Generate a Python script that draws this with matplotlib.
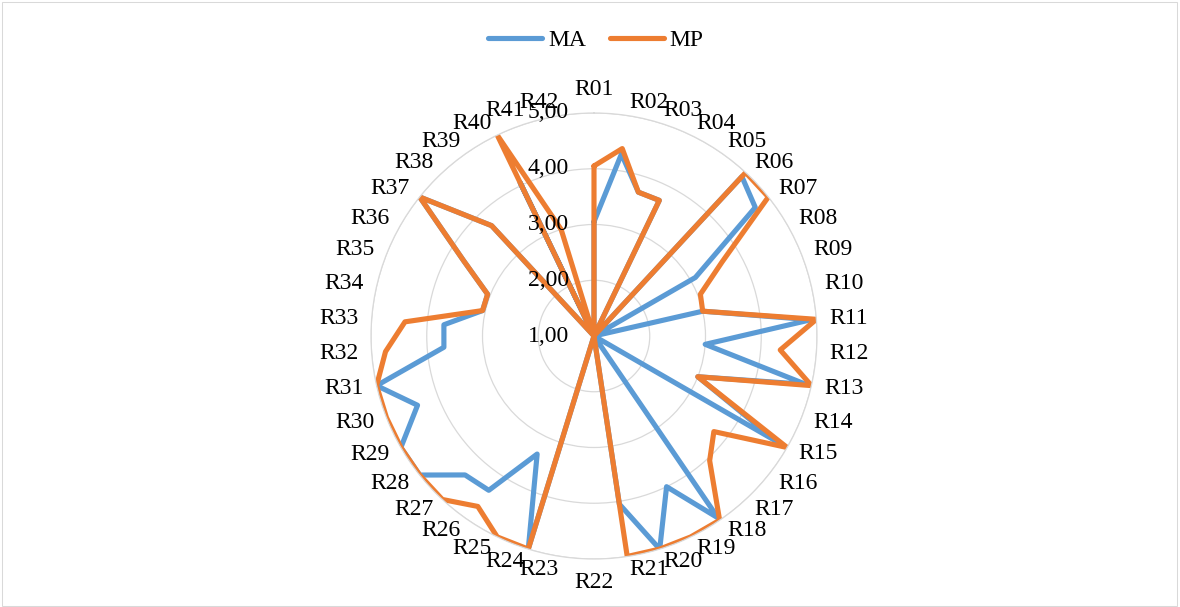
import numpy as np
import matplotlib.pyplot as plt
from matplotlib.transforms import offset_copy
from matplotlib.patches import Rectangle

plt.rcParams['font.family'] = ['Liberation Serif', 'DejaVu Serif']

# categories and series values
cats = ['R%02d' % i for i in range(1, 43)]
ma = [3.05, 4.3, 3.7, 3.7, 1, 4.9, 4.7, 3.1, 1, 3.0,
      4.9, 3.0, 4.9, 3.0, 4.8, 1, 1, 4.95, 4.0, 5.0,
      4.05, 1, 1, 5.0, 3.35, 4.35, 4.4, 5.0, 5.0, 4.4,
      5.0, 3.7, 3.7, 3.05, 3.05, 3.7, 5.0, 3.7, 1, 4.05,
      1, 1]
mp = [4.05, 4.4, 3.7, 3.7, 1, 5.0, 5.0, 3.65, 3.05, 3.0,
      5.0, 4.35, 5.0, 3.0, 5.0, 3.75, 4.05, 5.0, 5.0, 5.0,
      5.0, 1, 1, 5.0, 5.0, 4.7, 5.0, 5.0, 5.0, 5.0,
      5.0, 4.75, 4.4, 3.05, 3.05, 3.7, 5.0, 3.7, 1, 5.0,
      3.0, 1]
rticks = [1, 2, 3, 4, 5]
rlabels = ['1,00', '2,00', '3,00', '4,00', '5,00']

W, H = 1180, 607
fig = plt.figure(figsize=(W / 100, H / 100), dpi=100)

# chart area border
fig.patches.append(Rectangle((2 / W, 1 / H), (W - 5) / W, (H - 3) / H,
                             transform=fig.transFigure, fill=False,
                             edgecolor='#d9d9d9', linewidth=0.75))

cx, cy, R = 594, H - 336, 223
ax = fig.add_axes([(cx - R) / W, (cy - R) / H, 2 * R / W, 2 * R / H],
                  projection='polar')
ax.set_theta_zero_location('N')
ax.set_theta_direction(-1)
ax.set_ylim(1, 5)

n = len(cats)
theta = np.arange(n) * 2 * np.pi / n
tt = np.append(theta, theta[0])

ax.plot(tt, ma + ma[:1], color='#5B9BD5', lw=3.7, label='MA',
        solid_capstyle='round', solid_joinstyle='round')
ax.plot(tt, mp + mp[:1], color='#ED7D31', lw=3.7, label='MP',
        solid_capstyle='round', solid_joinstyle='round')

ax.set_xticks([])
ax.set_yticks(rticks)
ax.set_yticklabels([])
ax.xaxis.grid(False)
ax.yaxis.grid(True, color='#d9d9d9', lw=0.9)
ax.spines['polar'].set_color('#d9d9d9')
ax.spines['polar'].set_linewidth(0.9)
ax.set_facecolor('none')

# value labels left of the vertical axis
tr = offset_copy(ax.transData, fig=fig, x=-25, y=0, units='dots')
for v, s in zip(rticks, rlabels):
    ax.text(0, v, s, transform=tr, ha='right', va='center', fontsize=17,
            color='#000000', clip_on=False)

# category labels around the outside
rlab = 1 + 236 / (R / 4)
for t, c in zip(theta, cats):
    s, co = np.sin(t), np.cos(t)
    ha = 'left' if s > 0.05 else ('right' if s < -0.05 else 'center')
    va = 'center'
    if abs(s) <= 0.05:
        va = 'bottom' if co > 0 else 'top'
    ax.text(t, rlab, c, ha=ha, va=va, fontsize=17, clip_on=False)

fig.legend(loc='center', bbox_to_anchor=(0.505, 1 - 40 / H), ncol=2,
           frameon=False, fontsize=17, handlelength=2.3,
           handletextpad=0.25, columnspacing=1.0)

fig.savefig('out.png', dpi=100)
